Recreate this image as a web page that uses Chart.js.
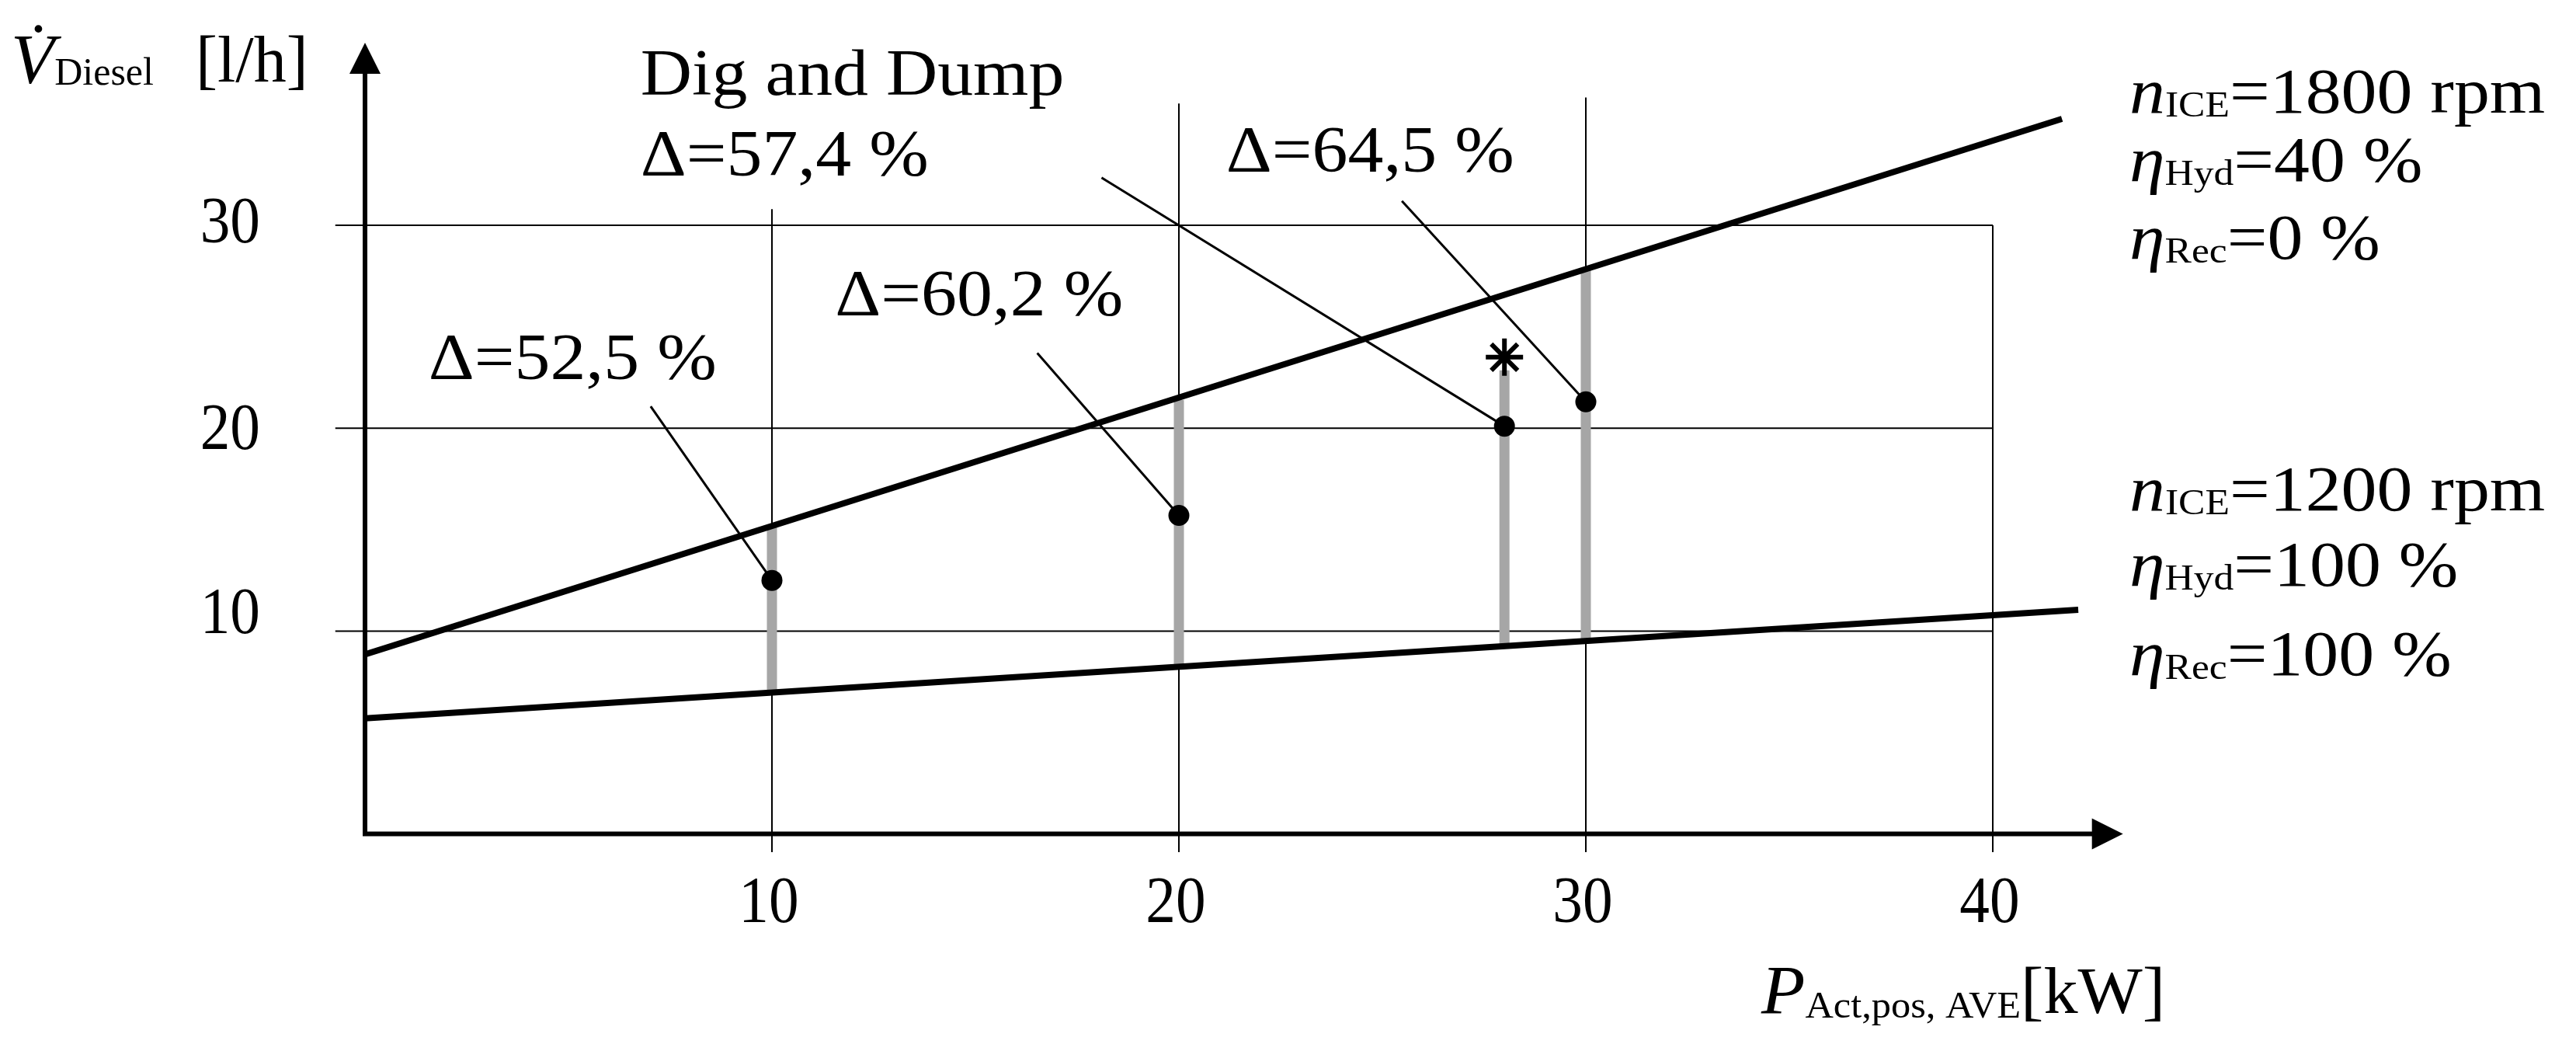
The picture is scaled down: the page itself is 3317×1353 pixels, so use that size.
<!DOCTYPE html>
<html>
<head>
<meta charset="utf-8">
<script src="https://cdn.jsdelivr.net/npm/chart.js@4.4.1/dist/chart.umd.min.js"></script>
<style>
    html, body { margin: 0; padding: 0; background: #ffffff; }
    canvas { display: block; }
</style>
</head>
<body>
<canvas id="dieselChart" width="3317" height="1353"></canvas>
<script>
// Axis ticks
const xTicks = [10, 20, 30, 40];
const yTicks = [10, 20, 30];

// Dig and Dump operating points
const powerKW = [10, 20, 28, 30];
const consumption = [12.5, 15.7, 20.1, 21.3];
const deltaLabels = ['Δ=52,5 %', 'Δ=60,2 %', 'Δ=57,4 %', 'Δ=64,5 %'];

// Grey range bar for each point (low / high)
const rangeLow = [6.97, 8.24, 9.26, 9.51];
const rangeHigh = [15.2, 21.4, 22.85, 27.8];

// Reference lines: 1800 rpm / 40 % and 1200 rpm / 100 %
const highRefX = [0, 41.7];
const highRefY = [8.85, 35.25];
const lowRefX = [0, 42.1];
const lowRefY = [5.7, 11.05];

// Marked point (asterisk)
const starX = [28];
const starY = [23.5];

// Where each label sits and where its leader line starts (data units)
const labelSpots = [
    { x: 1.56, y: 22.42, lx: 7.02, ly: 21.08 },
    { x: 11.55, y: 25.56, lx: 16.52, ly: 23.7 },
    { x: 6.77, y: 32.45, lx: 18.1, ly: 32.35 },
    { x: 21.16, y: 32.64, lx: 25.48, ly: 31.2 }
];
// grid line extents (data units) and y label nudges (px)
const gridTop = [30.8, 36.0, 36.3, 30];
const yLabelShift = [3, 27, 22];

const SERIF = '"Liberation Serif", "DejaVu Serif", serif';
function font(size, italic) {
    return (italic ? 'italic ' : '') + size + 'px ' + SERIF;
}

// draw a row of text pieces (for sub scripts) with a horizontal stretch
function drawRuns(ctx, x, y, runs, sx, align) {
    ctx.save();
    let total = 0;
    runs.forEach(r => { ctx.font = r[1]; total += ctx.measureText(r[0]).width; });
    ctx.translate(x, y);
    ctx.scale(sx, 1);
    let cx = align === 'right' ? -total : (align === 'center' ? -total / 2 : 0);
    ctx.textAlign = 'left';
    ctx.textBaseline = 'alphabetic';
    ctx.fillStyle = '#000000';
    runs.forEach(r => {
        ctx.font = r[1];
        ctx.fillText(r[0], cx, r[2] || 0);
        cx += ctx.measureText(r[0]).width;
    });
    ctx.restore();
}

function arrow(ctx, x, y, dir) {
    ctx.beginPath();
    if (dir === 'up') {
        ctx.moveTo(x, y);
        ctx.lineTo(x - 20, y + 40);
        ctx.lineTo(x + 20, y + 40);
    } else {
        ctx.moveTo(x, y);
        ctx.lineTo(x - 40, y - 20);
        ctx.lineTo(x - 40, y + 20);
    }
    ctx.closePath();
    ctx.fill();
}

// Grid + axes
const gridPlugin = {
    id: 'gridAxes',
    beforeDatasetsDraw(chart) {
        const ctx = chart.ctx;
        const xs = chart.scales.x;
        const ys = chart.scales.y;
        ctx.save();
        ctx.strokeStyle = '#000000';
        ctx.lineWidth = 2;
        yTicks.forEach(v => {
            const py = ys.getPixelForValue(v);
            ctx.beginPath();
            ctx.moveTo(xs.getPixelForValue(-0.73), py);
            ctx.lineTo(xs.getPixelForValue(40), py);
            ctx.stroke();
        });
        xTicks.forEach((v, i) => {
            const px = xs.getPixelForValue(v);
            ctx.beginPath();
            ctx.moveTo(px, ys.getPixelForValue(-0.9));
            ctx.lineTo(px, ys.getPixelForValue(gridTop[i]));
            ctx.stroke();
        });
        ctx.restore();
    },
    afterDatasetsDraw(chart) {
        const ctx = chart.ctx;
        const xs = chart.scales.x;
        const ys = chart.scales.y;
        const x0 = xs.getPixelForValue(0);
        const y0 = ys.getPixelForValue(0);
        const xTip = xs.getPixelForValue(43.2);
        const yTip = ys.getPixelForValue(39);
        ctx.save();
        ctx.strokeStyle = '#000000';
        ctx.fillStyle = '#000000';
        ctx.lineWidth = 6;
        ctx.lineCap = 'square';
        ctx.beginPath();
        ctx.moveTo(x0, yTip + 30);
        ctx.lineTo(x0, y0);
        ctx.lineTo(xTip - 30, y0);
        ctx.stroke();
        arrow(ctx, x0, yTip, 'up');
        arrow(ctx, xTip, y0, 'right');

        // tick labels
        yTicks.forEach((v, i) => {
            drawRuns(ctx, 335, ys.getPixelForValue(v) + yLabelShift[i], [[String(v), font(84)]], 0.92, 'right');
        });
        xTicks.forEach(v => {
            drawRuns(ctx, xs.getPixelForValue(v) - 4, 1187, [[String(v), font(84)]], 0.92, 'center');
        });

        // delta labels
        labelSpots.forEach((s, i) => {
            drawRuns(ctx, xs.getPixelForValue(s.x), ys.getPixelForValue(s.y), [[deltaLabels[i], font(85)]], 1.08);
        });
        drawRuns(ctx, xs.getPixelForValue(labelSpots[2].x), ys.getPixelForValue(36.43), [['Dig and Dump', font(85)]], 1.08);
        ctx.restore();
    },
    afterDraw(chart) {
        const ctx = chart.ctx;
        const main = font(82), ital = font(82, true), sub = font(46);
        const notes = [
            [145, 'n', 'ICE', '=1800 rpm'],
            [233, 'η', 'Hyd', '=40 %'],
            [333, 'η', 'Rec', '=0 %'],
            [657, 'n', 'ICE', '=1200 rpm'],
            [754, 'η', 'Hyd', '=100 %'],
            [869, 'η', 'Rec', '=100 %']
        ];
        notes.forEach(n => {
            drawRuns(ctx, 2742, n[0], [[n[1], ital], [n[2], sub, 5], [n[3], main]], 1.12);
        });

        // axis titles
        drawRuns(ctx, 14, 107, [['V\u0307', font(92, true)], ['Diesel', font(50), 2]], 1.0);
        drawRuns(ctx, 252, 105, [['[l/h]', font(84)]], 1.0);
        drawRuns(ctx, 2268, 1304, [['P', font(88, true)], ['Act,pos, AVE', font(48), 6], ['[kW]', font(84)]], 1.05);
    }
};

const lineStyle = (color, width, order) => ({
    showLine: true,
    borderColor: color,
    borderWidth: width,
    pointRadius: 0,
    fill: false,
    order: order
});

const datasets = [];
// reference lines
datasets.push(Object.assign({ data: highRefX.map((x, i) => ({ x: x, y: highRefY[i] })) }, lineStyle('#000000', 8, 2)));
datasets.push(Object.assign({ data: lowRefX.map((x, i) => ({ x: x, y: lowRefY[i] })) }, lineStyle('#000000', 8, 2)));
// grey range bars
powerKW.forEach((x, i) => {
    datasets.push(Object.assign({ data: [{ x: x, y: rangeLow[i] }, { x: x, y: rangeHigh[i] }] }, lineStyle('#a6a6a6', 13, 3)));
});
// leader lines from labels to points
powerKW.forEach((x, i) => {
    datasets.push(Object.assign({ data: [{ x: labelSpots[i].lx, y: labelSpots[i].ly }, { x: x, y: consumption[i] }] }, lineStyle('#000000', 3, 1)));
});
// points
datasets.push({
    data: powerKW.map((x, i) => ({ x: x, y: consumption[i] })),
    showLine: false,
    pointRadius: 13.5,
    pointBackgroundColor: '#000000',
    pointBorderColor: '#000000',
    pointBorderWidth: 0,
    order: 0
});
datasets.push({
    data: starX.map((x, i) => ({ x: x, y: starY[i] })),
    showLine: false,
    pointStyle: 'star',
    pointRadius: 24,
    pointBorderColor: '#000000',
    pointBorderWidth: 6,
    order: 0
});

new Chart(document.getElementById('dieselChart'), {
    type: 'scatter',
    data: { datasets: datasets },
    options: {
        responsive: false,
        animation: false,
        devicePixelRatio: 1,
        events: [],
        layout: { padding: { left: 470, right: 567.6, top: 55, bottom: 279.4 } },
        plugins: { legend: { display: false }, tooltip: { enabled: false } },
        scales: {
            x: { type: 'linear', min: 0, max: 43.5, display: false },
            y: { type: 'linear', min: 0, max: 39, display: false }
        }
    },
    plugins: [gridPlugin]
});
</script>
</body>
</html>
